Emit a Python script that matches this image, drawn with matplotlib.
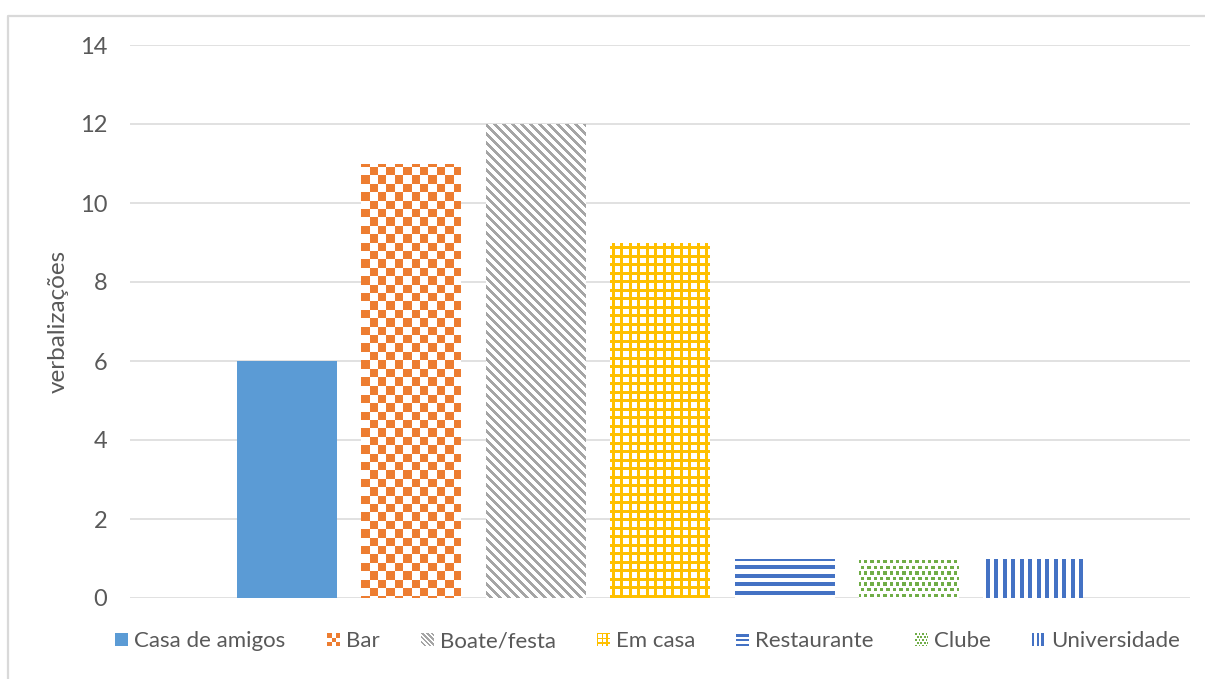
import numpy as np
import matplotlib
matplotlib.use("Agg")
import matplotlib.pyplot as plt
from matplotlib.patches import Rectangle
from matplotlib.lines import Line2D
from matplotlib.legend_handler import HandlerBase

plt.rcParams["font.family"] = ["Lato", "DejaVu Sans"]

categories = ["Casa de amigos", "Bar", "Boate/festa", "Em casa",
              "Restaurante", "Clube", "Universidade"]
values = [6, 11, 12, 9, 1, 1, 1]
colors = ["#5B9BD5", "#ED7D31", "#A5A5A5", "#FFC000",
          "#4472C4", "#70AD47", "#4472C4"]
patterns = ["solid", "checker", "diag", "grid", "hstripes", "confetti", "vstripes"]
yticks = [0, 2, 4, 6, 8, 10, 12, 14]
ylabel = "verbalizações"

TEXT = "#595959"
GRID = "#D9D9D9"
W, H = 1205, 679
FS_TICK = 17
FS_LEG = 16


def pattern_mask(kind, X, Y, s=1.0):
    """Boolean mask of foreground pixels for a fill pattern (pixel coords)."""
    if kind == "solid":
        return np.ones_like(X, dtype=bool)
    if kind == "checker":
        c = 8.4 * s
        return ((np.floor(X / c) + np.floor(Y / c)) % 2) == 0
    if kind == "diag":
        p = 9.0 * s
        return np.mod(X - Y, p) < 3.8 * s
    if kind == "grid":
        p = 8.5 * s
        t = 2.6 * s
        return (np.mod(X, p) < t) | (np.mod(Y, p) < t)
    if kind == "hstripes":
        p = 8.4 * s
        return np.mod(Y - 2.5 * s, p) < 4.0 * s
    if kind == "vstripes":
        p = 8.5 * s
        return np.mod(X, p) < 4.0 * s
    if kind == "confetti":
        ph, pv = 6.4 * s, 5.6 * s
        row = np.floor(Y / pv)
        off = (row % 2) * ph / 2
        return (np.mod(X + off, ph) < 3.4 * s) & (np.mod(Y, pv) < 3.4 * s)
    raise ValueError(kind)


def texture(kind, color, X, Y, s=1.0):
    rgb = np.array(matplotlib.colors.to_rgb(color))
    m = pattern_mask(kind, X, Y, s)
    img = np.ones(X.shape + (3,))
    img[m] = rgb
    return img


class PatternHandler(HandlerBase):
    def __init__(self, kind, color, n=13):
        super().__init__()
        self.kind, self.color, self.n = kind, color, n

    def create_artists(self, legend, orig_handle, xdescent, ydescent,
                       width, height, fontsize, trans):
        side = min(width, height)
        x0 = -xdescent + (width - side) / 2
        y0 = -ydescent + (height - side) / 2
        n = self.n
        cell = side / n
        jj, ii = np.mgrid[0:n, 0:n]
        mask = pattern_mask(self.kind, ii + 0.5, jj + 0.5, s=0.55)
        arts = []
        for j in range(n):
            for i in range(n):
                if mask[j, i]:
                    arts.append(Rectangle((x0 + i * cell, y0 + (n - 1 - j) * cell),
                                          cell * 1.02, cell * 1.02,
                                          facecolor=self.color, edgecolor="none",
                                          transform=trans))
        return arts


fig = plt.figure(figsize=(W / 100, H / 100), dpi=100)
ax = fig.add_axes([130 / W, 81 / H, 1060 / W, 553 / H])

x = np.arange(len(categories))
xlim = (-1.26, len(categories) - 1 + 1.26)
ylim = (0, 14)
ax.set_xlim(*xlim)
ax.set_ylim(*ylim)

bars = ax.bar(x, values, width=0.8, zorder=2,
              color=[c if p == "solid" else "white" for c, p in zip(colors, patterns)],
              edgecolor="none")

# fill each patterned bar with a pixel texture clipped to the bar
for rect, kind, color in zip(bars, patterns, colors):
    if kind == "solid":
        continue
    x0, w = rect.get_x(), rect.get_width()
    h = rect.get_height()
    (px0, py0), (px1, py1) = ax.transData.transform([(x0, 0), (x0 + w, h)])
    pw = int(round(px1 - px0))
    ph = int(round(py1 - py0))
    top = H - py1
    xs = np.round(px0) + np.arange(pw) + 0.5
    ys = np.round(top) + np.arange(ph) + 0.5
    X, Y = np.meshgrid(xs, ys)
    img = texture(kind, color, X, Y)
    im = ax.imshow(img, extent=(x0, x0 + w, 0, h), aspect="auto",
                   interpolation="nearest", zorder=3)
    im.set_clip_path(rect)

ax.set_xlim(*xlim)
ax.set_ylim(*ylim)
ax.set_yticks(yticks)
ax.set_xticks([])
ax.yaxis.grid(True, color=GRID, lw=1.1, zorder=0)
ax.set_axisbelow(True)
for sp in ax.spines.values():
    sp.set_visible(False)
ax.tick_params(axis="y", length=0, pad=16.5, labelsize=FS_TICK, labelcolor=TEXT)

fig.text(58 / W, 1 - 321 / H, ylabel, rotation=90, ha="center", va="center",
         fontsize=FS_TICK + 0.5, color=TEXT)

handles = [Rectangle((0, 0), 1, 1) for _ in categories]
hmap = {h: PatternHandler(k, c) for h, k, c in zip(handles, patterns, colors)}
leg = fig.legend(handles, categories, handler_map=hmap, ncol=len(categories),
                 loc="center", bbox_to_anchor=(647.5 / W, 1 - 641 / H),
                 frameon=False, fontsize=FS_LEG, labelcolor=TEXT,
                 handlelength=9.4 / FS_LEG, handleheight=9.4 / FS_LEG,
                 handletextpad=4.3 / FS_LEG, columnspacing=29.6 / FS_LEG,
                 borderaxespad=0, borderpad=0)

# outer chart border
fig.add_artist(Line2D([8 / W, 8 / W, 1], [0, 1 - 16 / H, 1 - 16 / H],
                      transform=fig.transFigure, color=GRID, lw=1.6))

fig.savefig("out.png", dpi=100)
